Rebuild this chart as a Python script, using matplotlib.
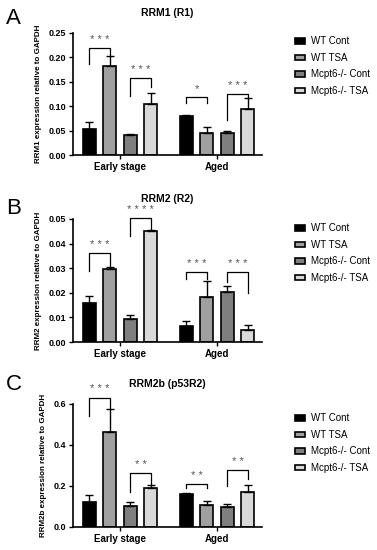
import numpy as np
import matplotlib.pyplot as plt
from matplotlib.patches import Patch

plt.rcParams['font.family'] = ['Liberation Sans', 'DejaVu Sans']

# DATA
groups = ['Early stage', 'Aged']
series = ['WT Cont', 'WT TSA', 'Mcpt6-/- Cont', 'Mcpt6-/- TSA']
colors = ['#000000', '#a0a0a0', '#7f7f7f', '#d9d9d9']

# mean values per series, [early, aged]
rrm1_mean = [[0.053, 0.080], [0.182, 0.045], [0.041, 0.046], [0.105, 0.094]]
rrm1_err = [[0.015, 0.002], [0.021, 0.013], [0.002, 0.003], [0.022, 0.023]]

rrm2_mean = [[0.0157, 0.0066], [0.0297, 0.0184], [0.0095, 0.0204], [0.0449, 0.0050]]
rrm2_err = [[0.0030, 0.0018], [0.0008, 0.0066], [0.0014, 0.0022], [0.0004, 0.0020]]

rrm2b_mean = [[0.121, 0.160], [0.464, 0.109], [0.104, 0.097], [0.191, 0.168]]
rrm2b_err = [[0.035, 0.004], [0.108, 0.018], [0.016, 0.016], [0.014, 0.038]]

# significance brackets: (group, bar a, bar b, top, left leg end, right leg end, label)
rrm1_sig = [(0, 0, 1, 0.220, 0.186, 0.204, '* * *'), (0, 2, 3, 0.157, 0.121, 0.140, '* * *'),
            (1, 0, 1, 0.118, 0.107, 0.107, '*'), (1, 2, 3, 0.125, 0.072, 0.117, '* * *')]
rrm2_sig = [(0, 0, 1, 0.0362, 0.0288, 0.0305, '* * *'), (0, 2, 3, 0.0504, 0.0432, 0.0458, '* * * *'),
            (1, 0, 1, 0.0283, 0.0256, 0.0256, '* * *'), (1, 2, 3, 0.0283, 0.0245, 0.0200, '* * *')]
rrm2b_sig = [(0, 0, 1, 0.630, 0.540, 0.575, '* * *'), (0, 2, 3, 0.262, 0.170, 0.206, '* *'),
             (1, 0, 1, 0.208, 0.189, 0.189, '* *'), (1, 2, 3, 0.278, 0.197, 0.232, '* *')]

panels = [
    ('A', 'RRM1 (R1)', 'RRM1 expression relative to GAPDH', rrm1_mean, rrm1_err, rrm1_sig,
     [0, 0.05, 0.10, 0.15, 0.20, 0.25], '%.2f'),
    ('B', 'RRM2 (R2)', 'RRM2 expression relative to GAPDH', rrm2_mean, rrm2_err, rrm2_sig,
     [0, 0.01, 0.02, 0.03, 0.04, 0.05], '%.2f'),
    ('C', 'RRM2b (p53R2)', 'RRM2b expression relative to GAPDH', rrm2b_mean, rrm2b_err, rrm2b_sig,
     [0, 0.2, 0.4, 0.6], '%.1f'),
]

offsets = [-0.317, -0.106, 0.106, 0.317]
width = 0.134
x = np.arange(len(groups))

fig = plt.figure(figsize=(3.77, 5.5), dpi=100)
axes_pos = [[0.194, 0.718, 0.501, 0.222], [0.194, 0.378, 0.501, 0.224], [0.194, 0.042, 0.501, 0.224]]
legend_y = [0.941, 0.601, 0.2555]
letter_y = [0.985, 0.64, 0.32]

for k, (letter, title, ylabel, mean, err, sig, yticks, fmt) in enumerate(panels):
    ax = fig.add_axes(axes_pos[k])
    for i in range(len(series)):
        ax.bar(x + offsets[i], mean[i], width, color=colors[i], edgecolor='black', linewidth=1.2,
               yerr=[np.zeros(2), err[i]], capsize=3, error_kw=dict(elinewidth=1, capthick=1, ecolor='black'),
               zorder=2)
    ymax = yticks[-1]
    for g, a, b, top, la, lb, lab in sig:
        xa = x[g] + offsets[a]
        xb = x[g] + offsets[b]
        ax.plot([xa, xa, xb, xb], [la, top, top, lb], color='black', lw=0.9, clip_on=False, zorder=3)
        ax.text((xa + xb) / 2, top + ymax * 0.025, lab, ha='center', va='bottom', fontsize=8,
                color='#555555', clip_on=False)
    ax.set_xlim(-0.485, 1.464)
    ax.set_ylim(0, ymax)
    ax.set_yticks(yticks)
    ax.set_yticklabels([fmt % t for t in yticks], fontsize=6.5, fontweight='bold')
    ax.set_xticks(x)
    ax.set_xticklabels(groups, fontsize=7, fontweight='bold')
    ax.tick_params(axis='both', length=3, width=1, pad=2)
    for s in ['top', 'right']:
        ax.spines[s].set_visible(False)
    for s in ['left', 'bottom']:
        ax.spines[s].set_linewidth(1.2)
    ax.set_ylabel(ylabel, fontsize=5.8, fontweight='bold', labelpad=5)
    ax.set_title(title, fontsize=7.5, fontweight='bold', pad=12)
    fig.text(0.015, letter_y[k], letter, fontsize=16, va='top', ha='left')
    handles = [Patch(facecolor=colors[i], edgecolor='black', linewidth=1.2) for i in range(len(series))]
    ax.legend(handles, series, loc='upper left', bbox_to_anchor=(0.772, legend_y[k]),
              bbox_transform=fig.transFigure, frameon=False, fontsize=7, handlelength=1.05,
              handleheight=0.5, handletextpad=0.6, labelspacing=0.67, borderaxespad=0)

fig.savefig('out.png', dpi=100)
